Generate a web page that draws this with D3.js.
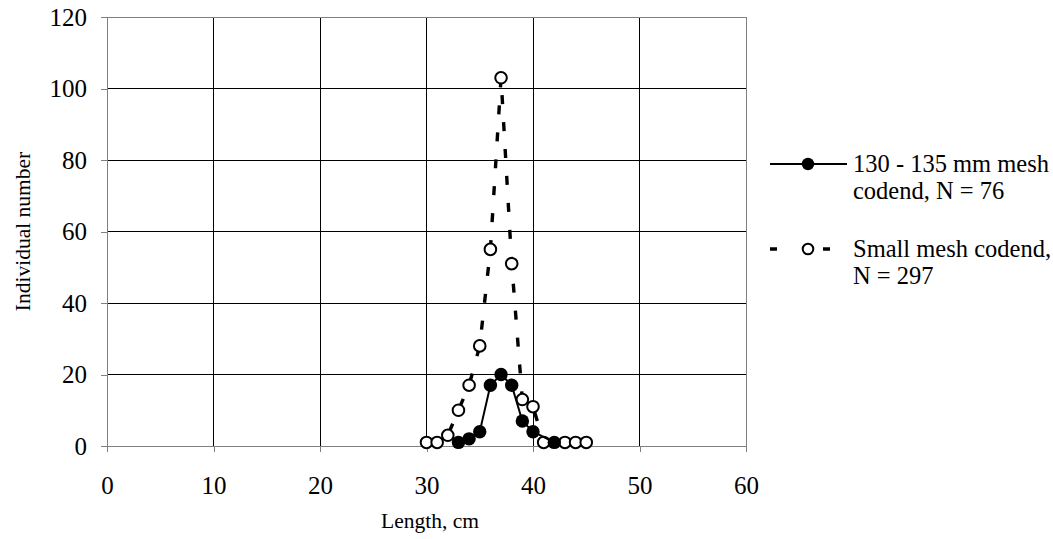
<!DOCTYPE html>
<meta charset="utf-8">
<head>
<style>
body {
  margin: 0;
  background: #fff;
  font-family: "Liberation Serif", "Times New Roman", serif;
}
.grid line {
  stroke: #000;
  stroke-width: 1px;
  shape-rendering: crispEdges;
}
.axis path,
.axis line {
  stroke: #808080;
  stroke-width: 1px;
  fill: none;
  shape-rendering: crispEdges;
}
.axis text {
  font-family: "Liberation Serif", "Times New Roman", serif;
  font-size: 25px;
  fill: #000;
}
.label {
  font-size: 21.5px;
  fill: #000;
}
.legend text {
  font-size: 24.5px;
  fill: #000;
}
</style>
<script src="https://d3js.org/d3.v7.min.js"></script>
</head>
<body>
<div id="chart"></div>
<script>

// length classes (cm) and counts per gear
var lengthsLarge = [33, 34, 35, 36, 37, 38, 39, 40, 42];
var countsLarge  = [1, 2, 4, 17, 20, 17, 7, 4, 1];
var lengthsSmall = [30, 31, 32, 33, 34, 35, 36, 37, 38, 39, 40, 41, 43, 44, 45];
var countsSmall  = [1, 1, 3, 10, 17, 28, 55, 103, 51, 13, 11, 1, 1, 1, 1];

var xTicks = [0, 10, 20, 30, 40, 50, 60];
var yTicks = [0, 20, 40, 60, 80, 100, 120];
var legendLines = [
  ["130 - 135 mm mesh", "codend, N = 76"],
  ["Small mesh codend,", "N = 297"]
];

var W = 1053, H = 539;
var margin = {top: 17, left: 107, right: W - 746, bottom: H - 446};
var width = W - margin.left - margin.right,
    height = H - margin.top - margin.bottom;

var svg = d3.select("#chart").append("svg")
  .attr("width", W)
  .attr("height", H);

var g = svg.append("g")
  .attr("transform", "translate(" + margin.left + "," + margin.top + ")");

var x = d3.scaleLinear().domain([0, 60]).range([0, width]);
var y = d3.scaleLinear().domain([0, 120]).range([height, 0]);

function zip(xs, ys) {
  return xs.map(function(d, i) { return {len: d, n: ys[i]}; });
}
var large = zip(lengthsLarge, countsLarge);
var small = zip(lengthsSmall, countsSmall);

// gridlines
var grid = g.append("g").attr("class", "grid");
grid.selectAll(".gx")
  .data(xTicks.filter(function(d) { return d > 0 && d < 60; }))
  .enter().append("line")
    .attr("x1", function(d) { return x(d); })
    .attr("x2", function(d) { return x(d); })
    .attr("y1", 0)
    .attr("y2", height);
grid.selectAll(".gy")
  .data(yTicks.filter(function(d) { return d > 0 && d < 120; }))
  .enter().append("line")
    .attr("x1", 0)
    .attr("x2", width)
    .attr("y1", function(d) { return y(d); })
    .attr("y2", function(d) { return y(d); });

// frame top/right
g.append("path")
  .attr("d", "M0,0H" + width + "V" + height)
  .attr("fill", "none")
  .attr("stroke", "#808080")
  .attr("shape-rendering", "crispEdges");

// axes
g.append("g")
  .attr("class", "axis")
  .attr("transform", "translate(0," + height + ")")
  .call(d3.axisBottom(x).tickValues(xTicks).tickSize(6).tickSizeOuter(0).tickPadding(24));

g.append("g")
  .attr("class", "axis")
  .call(d3.axisLeft(y).tickValues(yTicks).tickSize(6).tickSizeOuter(0).tickPadding(14));

// axis titles
svg.append("text")
  .attr("class", "label")
  .attr("x", 430)
  .attr("y", 528)
  .attr("text-anchor", "middle")
  .text("Length, cm");

svg.append("text")
  .attr("class", "label")
  .attr("transform", "translate(22," + (margin.top + height / 2) + ") rotate(-90)")
  .attr("text-anchor", "middle")
  .attr("dy", "0.35em")
  .text("Individual number");

var line = d3.line()
  .x(function(d) { return x(d.len); })
  .y(function(d) { return y(d.n); });

// small mesh (dashed, open circles)
g.append("path")
  .datum(small)
  .attr("d", line)
  .attr("fill", "none")
  .attr("stroke", "#000")
  .attr("stroke-width", 3.4)
  .attr("stroke-dasharray", "9,18");

g.selectAll(".ptS")
  .data(small)
  .enter().append("circle")
    .attr("cx", function(d) { return x(d.len); })
    .attr("cy", function(d) { return y(d.n); })
    .attr("r", 5.8)
    .attr("fill", "#fff")
    .attr("stroke", "#000")
    .attr("stroke-width", 2);

// 130-135 mm (solid, filled circles)
g.append("path")
  .datum(large)
  .attr("d", line)
  .attr("fill", "none")
  .attr("stroke", "#000")
  .attr("stroke-width", 2);

g.selectAll(".ptL")
  .data(large)
  .enter().append("circle")
    .attr("cx", function(d) { return x(d.len); })
    .attr("cy", function(d) { return y(d.n); })
    .attr("r", 6.7)
    .attr("fill", "#000");

// legend
var leg = svg.append("g").attr("class", "legend");
var legY = [164, 249];

leg.append("line")
  .attr("x1", 770).attr("x2", 847)
  .attr("y1", legY[0]).attr("y2", legY[0])
  .attr("stroke", "#000").attr("stroke-width", 2);
leg.append("circle")
  .attr("cx", 808).attr("cy", legY[0]).attr("r", 6.2).attr("fill", "#000");

leg.append("line")
  .attr("x1", 770).attr("x2", 847)
  .attr("y1", legY[1]).attr("y2", legY[1])
  .attr("stroke", "#000").attr("stroke-width", 3.4)
  .attr("stroke-dasharray", "7,26,11,9,7,30");
leg.append("circle")
  .attr("cx", 808).attr("cy", legY[1]).attr("r", 5.3)
  .attr("fill", "#fff").attr("stroke", "#000").attr("stroke-width", 2);

legendLines.forEach(function(lines, i) {
  var t = leg.append("text")
    .attr("x", 853)
    .attr("y", legY[i] + 8);
  lines.forEach(function(s, j) {
    t.append("tspan")
      .attr("x", 853)
      .attr("dy", j === 0 ? 0 : 27)
      .text(s);
  });
});

</script>
</body>
</html>
